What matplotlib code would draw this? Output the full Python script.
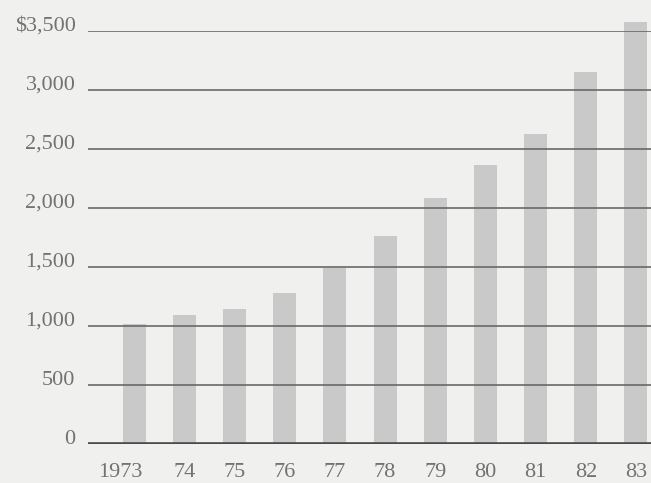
import matplotlib
matplotlib.use("Agg")
import matplotlib.pyplot as plt
import matplotlib.transforms as mtransforms
import numpy as np

# Annual amounts in dollars, 1973-1983
years = ["1973", "74", "75", "76", "77", "78", "79", "80", "81", "82", "83"]
values = [1010, 1090, 1140, 1280, 1490, 1760, 2080, 2360, 2630, 3150, 3580]
y_ticks = [0, 500, 1000, 1500, 2000, 2500, 3000, 3500]
y_tick_labels = ["0", "500", "1,000", "1,500", "2,000", "2,500", "3,000", "$3,500"]

bg = "#f0f0ef"
bar_color = "#c9c9c9"
grid_color = "#686868"
text_color = "#727272"

fig = plt.figure(figsize=(6.51, 4.83), dpi=100, facecolor=bg)
ax = fig.add_axes([88 / 651, 1 - 443.5 / 483, (651 - 88) / 651, (443.5 - 31) / 483])
ax.set_facecolor(bg)

x = np.arange(len(years))
ax.bar(x, values, width=0.46, color=bar_color, zorder=1, clip_on=False)

ax.set_xlim(-0.92, 10.3)
ax.set_ylim(0, 3500)

# Horizontal rules drawn over the bars
for t in y_ticks[1:]:
    ax.axhline(t, color=grid_color, lw=1.4, zorder=2, alpha=0.85)
ax.axhline(0, color="#4a4a4a", lw=2.6, zorder=3)

for s in ax.spines.values():
    s.set_visible(False)

ax.set_yticks(y_ticks)
ax.set_yticklabels(y_tick_labels, family="Liberation Serif", fontsize=16, color=text_color)
ax.set_xticks(x)
ax.set_xticklabels(years, family="Liberation Serif", fontsize=16, color=text_color)
ax.tick_params(axis="y", length=0, pad=9)
ax.tick_params(axis="x", length=0, pad=14)

# Lift the value labels slightly above their rules
up = mtransforms.ScaledTranslation(0, 7 / 100, fig.dpi_scale_trans)
for lab in ax.get_yticklabels():
    lab.set_transform(lab.get_transform() + up)

# The first year label sits a little to the left of its bar
left = mtransforms.ScaledTranslation(-14 / 100, 0, fig.dpi_scale_trans)
first = ax.get_xticklabels()[0]
first.set_transform(first.get_transform() + left)

fig.savefig("out.png", dpi=100, facecolor=bg)
